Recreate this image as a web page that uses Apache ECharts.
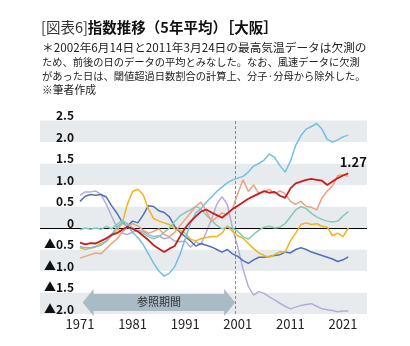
<!DOCTYPE html>
<html>
<head>
<meta charset="utf-8">
<script src="https://cdn.jsdelivr.net/npm/echarts@6/dist/echarts.min.js"></script>
<style>
  html, body { margin: 0; padding: 0; background: #ffffff; }
  #chart { width: 410px; height: 346px; }
</style>
</head>
<body>
<div id="chart"></div>
<script>
// Years of the 5-year moving averages
const years = [
  1971, 1972, 1973, 1974, 1975, 1976, 1977, 1978, 1979, 1980,
  1981, 1982, 1983, 1984, 1985, 1986, 1987, 1988, 1989, 1990,
  1991, 1992, 1993, 1994, 1995, 1996, 1997, 1998, 1999, 2000,
  2001, 2002, 2003, 2004, 2005, 2006, 2007, 2008, 2009, 2010,
  2011, 2012, 2013, 2014, 2015, 2016, 2017, 2018, 2019, 2020,
  2021, 2022
];

const lineRed = [
  -0.34, -0.38, -0.35, -0.36, -0.30, -0.24, -0.16, -0.12, -0.04, 0.03,
  -0.02, -0.08, -0.18, -0.28, -0.40, -0.48, -0.56, -0.48, -0.42, -0.20,
  0.00, 0.15, 0.27, 0.38, 0.43, 0.36, 0.30, 0.24, 0.34, 0.44,
  0.52, 0.60, 0.68, 0.74, 0.80, 0.86, 0.82, 0.84, 0.75, 0.70,
  0.92, 1.04, 1.08, 1.12, 1.14, 1.12, 1.10, 1.00, 1.08, 1.16,
  1.22, 1.27
];

const lineSky = [
  -0.43, -0.46, -0.46, -0.43, -0.40, -0.30, -0.15, 0.02, 0.12, 0.05,
  -0.10, -0.22, -0.38, -0.60, -0.82, -1.00, -1.12, -1.05, -0.90, -0.62,
  -0.25, 0.10, 0.35, 0.45, 0.60, 0.72, 0.85, 0.95, 1.05, 1.12,
  1.16, 1.20, 1.30, 1.44, 1.50, 1.58, 1.72, 1.64, 1.45, 1.30,
  1.55, 1.92, 2.15, 2.30, 2.36, 2.43, 2.30, 2.06, 2.00, 2.05,
  2.12, 2.16
];

const lineSalmon = [
  -0.70, -0.66, -0.62, -0.58, -0.60, -0.48, -0.36, -0.26, -0.10, 0.02,
  0.10, 0.05, -0.05, -0.12, -0.08, -0.02, -0.15, -0.20, -0.10, 0.05,
  0.20, 0.35, 0.50, 0.60, 0.40, 0.15, 0.25, 0.35, 0.30, 0.45,
  0.80, 1.12, 0.85, 1.00, 0.80, 0.84, 0.90, 0.80, 0.86, 0.80,
  0.62, 0.55, 0.62, 0.50, 0.48, 0.42, 0.70, 0.86, 0.98, 1.22,
  1.24, 1.20
];

const lineTeal = [
  -0.04, 0.00, -0.03, 0.00, -0.03, 0.04, -0.02, 0.08, 0.18, 0.10,
  0.00, -0.08, -0.12, -0.20, -0.25, -0.20, -0.10, 0.00, 0.15, 0.28,
  0.36, 0.42, 0.50, 0.45, 0.30, 0.18, 0.06, -0.02, 0.02, 0.00,
  -0.08, -0.20, -0.26, -0.15, -0.05, 0.02, 0.04, 0.00, 0.02, 0.10,
  0.26, 0.42, 0.50, 0.45, 0.34, 0.26, 0.20, 0.16, 0.14, 0.16,
  0.28, 0.38
];

const lineYellow = [
  -0.46, -0.50, -0.47, -0.44, -0.36, -0.32, -0.18, -0.05, 0.10, 0.55,
  0.85, 0.90, 0.78, 0.45, 0.22, 0.16, 0.12, 0.08, -0.02, -0.05,
  -0.12, -0.26, -0.30, -0.25, -0.22, -0.20, -0.20, -0.12, 0.05, -0.08,
  -0.18, -0.24, -0.36, -0.48, -0.58, -0.64, -0.68, -0.62, -0.55, -0.56,
  -0.30, -0.12, 0.08, 0.12, 0.08, 0.10, 0.04, 0.02, -0.18, -0.12,
  -0.20, 0.00
];

const lineBlue = [
  0.62, 0.74, 0.78, 0.76, 0.78, 0.72, 0.52, 0.35, 0.14, 0.04,
  0.16, 0.12, 0.30, 0.52, 0.50, 0.40, 0.36, 0.26, 0.04, -0.10,
  -0.20, -0.30, -0.42, -0.36, -0.40, -0.44, -0.50, -0.56, -0.50, -0.60,
  -0.66, -0.76, -0.82, -0.74, -0.68, -0.68, -0.66, -0.64, -0.62, -0.56,
  -0.58, -0.50, -0.46, -0.50, -0.56, -0.60, -0.64, -0.68, -0.72, -0.78,
  -0.74, -0.67
];

const lineLavender = [
  0.76, 0.84, 0.84, 0.86, 0.78, 0.55, 0.28, 0.02, -0.12, -0.15,
  -0.10, -0.05, -0.08, -0.15, -0.20, -0.18, -0.25, -0.22, -0.30, -0.32,
  -0.30, -0.45, -0.32, -0.38, -0.10, 0.20, 0.55, 0.73, 0.55, 0.00,
  -0.45, -0.95, -1.36, -1.56, -1.48, -1.52, -1.60, -1.67, -1.75, -1.82,
  -1.88, -1.84, -1.80, -1.78, -1.76, -1.82, -1.88, -1.90, -1.92, -1.95,
  -1.93, -1.93
];

// Axis ticks
const xTickYears = [1971, 1981, 1991, 2001, 2011, 2021];
const yMin = -2.0, yMax = 2.5, yStep = 0.5;

// Reference period (arrow) and its end marker
const refPeriod = [1971.5, 2000.5];
const refLevel = -1.73;
const refLabel = '参照期間';

const titleHead = '[図表6]';
const titleMain = '指数推移（5年平均）［大阪］';
const noteLines = [
  '＊2002年6月14日と2011年3月24日の最高気温データは欠測の',
  'ため、前後の日のデータの平均とみなした。なお、風速データに欠測',
  'があった日は、閾値超過日数割合の計算上、分子·分母から除外した。',
  '※筆者作成'
];

const FONT = '"Noto Sans CJK JP", "Noto Sans", sans-serif';

function pairs(vals) {
  return years.map((y, i) => [y, vals[i]]);
}

function lineSeries(vals, color, width, z) {
  return {
    type: 'line',
    data: pairs(vals),
    showSymbol: false,
    symbol: 'none',
    smooth: false,
    lineStyle: { color: color, width: width },
    z: z,
    silent: true,
    animation: false
  };
}

const chart = echarts.init(document.getElementById('chart'), null, { renderer: 'canvas' });

const lastIdx = years.length - 1;
const redSeries = lineSeries(lineRed, '#cc1a1f', 1.8, 9);
redSeries.markPoint = {
  silent: true,
  animation: false,
  symbol: 'circle',
  symbolSize: 1,
  itemStyle: { color: 'rgba(0,0,0,0)' },
  label: {
    show: true,
    position: 'top',
    distance: 4,
    offset: [5, 0],
    formatter: (d) => d.value.toFixed(2),
    fontFamily: FONT,
    fontWeight: 'bold',
    fontSize: 13,
    color: '#111'
  },
  data: [{ coord: [years[lastIdx], lineRed[lastIdx]], value: lineRed[lastIdx] }]
};

function noteText(line, top, size) {
  return {
    type: 'text',
    left: 42,
    top: top,
    style: { text: line, fontFamily: FONT, fontSize: size, fill: '#222' }
  };
}

const option = {
  animation: false,
  backgroundColor: '#ffffff',
  textStyle: { fontFamily: FONT },
  grid: { left: 40, right: 43, top: 120.5, bottom: 32, containLabel: false },
  xAxis: {
    type: 'value',
    min: 1963.4,
    max: 2025.56,
    axisLine: { show: false },
    axisTick: { show: false },
    splitLine: { show: false },
    axisLabel: {
      customValues: xTickYears,
      formatter: (v) => String(v),
      fontFamily: FONT,
      fontSize: 13,
      color: '#222',
      margin: 4
    }
  },
  yAxis: {
    type: 'value',
    min: yMin,
    max: yMax,
    interval: yStep,
    axisLine: { show: false },
    axisTick: { show: false },
    splitLine: { show: false },
    splitArea: {
      show: true,
      areaStyle: { color: ['#e8ebee', '#ffffff'] }
    },
    axisLabel: {
      inside: true,
      align: 'right',
      verticalAlign: 'bottom',
      margin: 34,
      padding: [0, 0, -1, 0],
      fontFamily: FONT,
      fontWeight: 'bold',
      fontSize: 12,
      color: '#111',
      formatter: (v) => {
        if (Math.abs(v) < 1e-9) return '0';
        return v < 0 ? '▲' + Math.abs(v).toFixed(1) : v.toFixed(1);
      }
    }
  },
  graphic: [
    {
      type: 'text',
      left: 41,
      top: 20,
      style: {
        text: '{a|' + titleHead + '}{b|' + titleMain + '}',
        rich: {
          a: { fontFamily: FONT, fontSize: 14.5, fontWeight: 'normal', fill: '#333' },
          b: { fontFamily: FONT, fontSize: 14.5, fontWeight: 'bold', fill: '#111' }
        }
      }
    },
    noteText(noteLines[0], 41.5, 11.7),
    noteText(noteLines[1], 56.5, 10.25),
    noteText(noteLines[2], 70.5, 10.25),
    noteText(noteLines[3], 84.5, 10.8)
  ],
  series: [
    // reference period arrow
    {
      type: 'custom',
      silent: true,
      z: 3,
      data: [[refPeriod[0], refPeriod[1], refLevel]],
      encode: { x: [0, 1], y: 2 },
      renderItem: (params, api) => {
        const a = api.coord([api.value(0), api.value(2)]);
        const b = api.coord([api.value(1), api.value(2)]);
        const head = 11, hh = 13.5, bh = 8.5;
        const y = a[1];
        const pts = [
          [a[0], y],
          [a[0] + head, y - hh],
          [a[0] + head, y - bh],
          [b[0] - head, y - bh],
          [b[0] - head, y - hh],
          [b[0], y],
          [b[0] - head, y + hh],
          [b[0] - head, y + bh],
          [a[0] + head, y + bh],
          [a[0] + head, y + hh]
        ];
        return {
          type: 'group',
          children: [
            { type: 'polygon', shape: { points: pts }, style: { fill: '#a9bbc5' } },
            {
              type: 'text',
              x: (a[0] + b[0]) / 2,
              y: y - 1,
              style: {
                text: refLabel,
                fontFamily: FONT,
                fontSize: 11,
                fill: '#333',
                align: 'center',
                verticalAlign: 'middle'
              }
            }
          ]
        };
      }
    },
    Object.assign(lineSeries(lineLavender, '#b4acd8', 1.5, 4), {
      markLine: {
        silent: true,
        symbol: 'none',
        label: { show: false },
        animation: false,
        data: [
          { xAxis: refPeriod[1], lineStyle: { color: '#8a8a8a', type: [3, 2], width: 1 } },
          { yAxis: 0, lineStyle: { color: '#000000', type: 'solid', width: 1 } }
        ]
      }
    }),
    lineSeries(lineBlue, '#4e72b4', 1.5, 4),
    lineSeries(lineYellow, '#f2b31c', 1.5, 5),
    lineSeries(lineTeal, '#84cab3', 1.5, 5),
    lineSeries(lineSalmon, '#efa07e', 1.5, 6),
    lineSeries(lineSky, '#72bfe6', 1.5, 7),
    redSeries
  ]
};

chart.setOption(option);
</script>
</body>
</html>
